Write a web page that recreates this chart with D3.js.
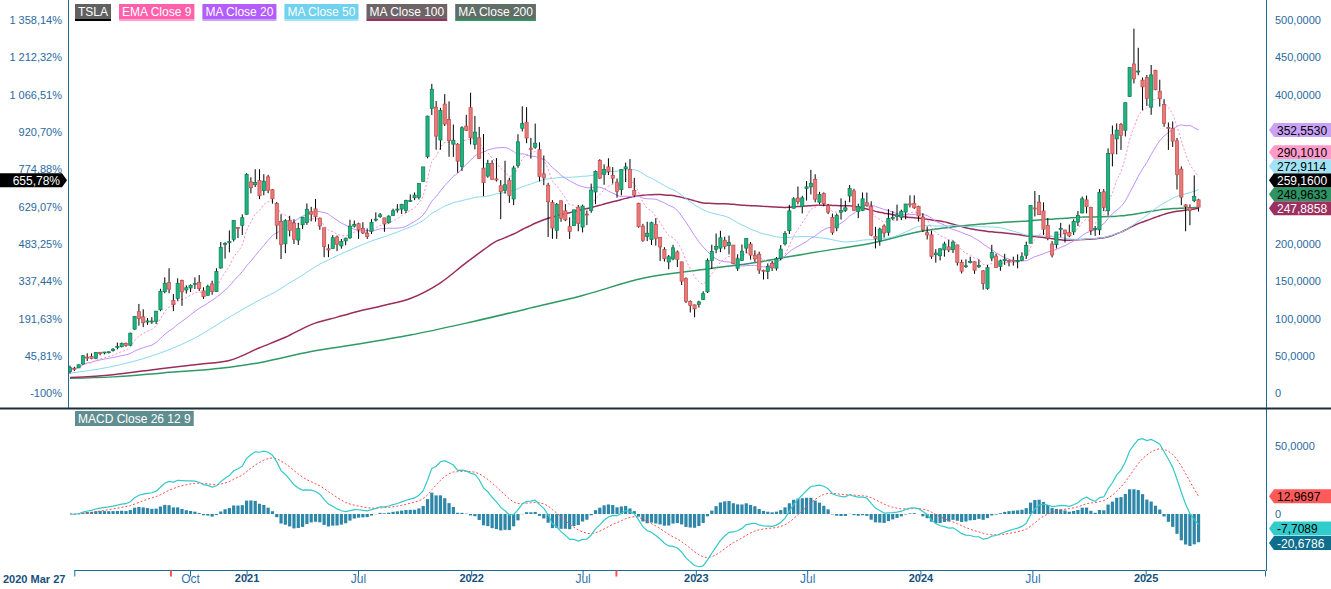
<!DOCTYPE html>
<html>
<head>
<meta charset="utf-8">
<script src="https://cdn.jsdelivr.net/npm/d3@7"></script>
<style>
  body { margin: 0; background: #fff; overflow: hidden; }
  svg { display: block; font-family: "Liberation Sans", Arial, sans-serif; }
</style>
</head>
<body>
<div class="grafico"></div>
<script>
/* TSLA weekly candles, 2020 Mar 27 -> 2025 Mar 31 (split adjusted) */
const firstWeek = '2020-03-20';
const viewStart = '2020-03-27';
const viewEnd = '2025-07-14';

const weekOpen = [
  28.9, 33.3, 34.0, 39.3, 48.5, 49.2, 46.9, 55.0, 55.3, 55.4,
  57.2, 62.7, 62.4, 66.7, 64.3, 85.9, 109.3, 102.4, 97.0, 96.4,
  96.5, 111.8, 136.1, 148.2, 118.7, 127.0, 151.0, 141.5, 141.1, 147.3,
  148.7, 137.2, 131.3, 146.5, 136.3, 167.8, 200.7, 201.6, 206.3, 222.1,
  224.8, 239.8, 283.1, 279.3, 285.0, 271.4, 289.9, 272.7, 254.2, 230.0,
  200.2, 231.4, 228.1, 205.2, 235.9, 228.6, 239.9, 247.0, 234.6, 221.6,
  191.9, 193.9, 209.3, 197.3, 204.1, 208.2, 223.9, 227.2, 220.7, 210.0,
  217.0, 233.3, 236.7, 235.0, 228.5, 238.2, 246.7, 246.7, 244.9, 257.7,
  265.5, 262.6, 283.9, 316.8, 381.7, 383.3, 339.2, 387.4, 366.7, 333.7,
  333.7, 303.6, 357.9, 382.6, 333.3, 342.2, 301.6, 290.9, 307.9, 287.2,
  278.0, 271.7, 285.4, 260.2, 305.0, 355.0, 363.1, 326.8, 329.7, 326.3,
  294.0, 278.8, 255.7, 218.3, 257.9, 244.4, 223.2, 224.5, 249.4, 222.6,
  239.3, 244.9, 269.7, 311.7, 293.3, 303.3, 291.7, 282.8, 272.7, 300.7,
  300.1, 271.8, 254.5, 223.9, 210.0, 205.8, 226.2, 208.7, 192.8, 175.9,
  179.9, 189.4, 176.1, 154.0, 117.5, 118.47, 118.96, 125.7, 135.87, 178.05,
  193.0, 194.4, 204.99, 202.0, 198.54, 167.46, 178.08, 194.42, 199.91, 179.94,
  186.32, 164.65, 163.17, 173.72, 167.65, 180.7, 200.1, 217.8, 247.94, 261.5,
  250.07, 276.49, 276.47, 286.63, 255.85, 267.48, 251.45, 235.7, 221.55, 242.58,
  245.0, 264.27, 271.16, 243.38, 244.81, 255.31, 250.05, 210.0, 204.0, 223.98,
  215.6, 234.04, 236.89, 235.75, 242.74, 253.78, 254.49, 250.08, 236.14, 215.1,
  212.26, 185.63, 184.26, 192.11, 196.13, 192.29, 198.73, 175.45, 170.02, 176.45,
  176.17, 169.34, 164.0, 140.56, 188.42, 183.8, 170.0, 177.56, 176.4, 178.13,
  176.06, 177.9, 184.97, 201.02, 247.71, 255.97, 244.21, 224.9, 185.22, 199.02,
  220.82, 218.75, 215.26, 216.2, 229.3, 241.64, 259.04, 249.0, 220.13, 218.9,
  270.0, 244.56, 346.3, 340.73, 360.14, 352.38, 397.61, 441.09, 431.0, 419.4,
  423.2, 383.21, 432.64, 394.8, 386.68, 356.21, 355.0, 338.14, 300.34, 252.35,
  245.06, 258.08, 249.31
];

const weekHigh = [
  37.1, 35.5, 38.7, 51.3, 53.6, 53.5, 54.9, 55.2, 55.5, 56.1,
  60.5, 67.9, 67.9, 68.0, 81.2, 103.3, 119.7, 112.6, 100.9, 101.9,
  110.1, 140.0, 155.3, 167.5, 133.0, 154.0, 152.2, 144.6, 145.9, 155.3,
  158.4, 141.9, 145.5, 150.8, 167.5, 202.6, 202.4, 218.1, 231.8, 222.8,
  239.6, 294.8, 289.3, 300.1, 300.1, 293.5, 292.6, 273.7, 256.2, 239.7,
  233.2, 237.7, 233.2, 228.3, 236.0, 254.3, 249.8, 260.3, 235.3, 221.7,
  199.7, 211.9, 211.3, 206.7, 208.5, 232.5, 231.5, 228.5, 229.1, 220.7,
  233.3, 242.3, 241.4, 235.0, 238.4, 247.3, 253.4, 253.7, 259.3, 266.3,
  269.0, 281.1, 303.3, 371.7, 414.5, 391.5, 382.3, 400.7, 391.0, 360.0,
  335.0, 357.7, 373.0, 402.7, 371.6, 356.9, 347.2, 312.7, 312.2, 315.0,
  285.6, 311.5, 288.7, 304.7, 346.9, 384.3, 383.3, 342.1, 361.3, 336.2,
  318.5, 281.9, 258.7, 254.9, 258.0, 253.4, 235.7, 246.1, 252.1, 252.7,
  244.7, 280.8, 298.3, 313.6, 306.7, 314.8, 302.96, 287.7, 299.85, 309.0,
  313.8, 288.5, 255.2, 227.0, 229.8, 229.85, 234.6, 208.9, 195.7, 185.2,
  198.9, 191.3, 176.1, 155.25, 124.48, 118.8, 124.0, 136.68, 180.68, 199.0,
  214.0, 217.65, 209.7, 211.23, 198.6, 186.22, 199.31, 207.79, 202.69, 191.4,
  189.69, 165.65, 174.0, 177.38, 182.5, 198.6, 217.25, 252.4, 262.6, 276.99,
  264.45, 284.25, 299.29, 293.34, 269.85, 269.08, 253.65, 240.66, 240.8, 261.18,
  258.0, 278.98, 273.93, 254.0, 268.99, 268.94, 257.18, 223.0, 222.0, 226.32,
  246.7, 244.01, 252.75, 246.0, 253.89, 265.13, 265.13, 251.25, 241.25, 223.49,
  217.8, 193.0, 194.0, 203.0, 205.6, 204.52, 199.0, 179.0, 179.4, 183.0,
  176.75, 179.4, 165.0, 172.0, 198.87, 187.0, 179.0, 186.8, 179.0, 183.0,
  186.0, 188.8, 203.2, 251.84, 271.0, 265.6, 255.76, 234.68, 203.88, 216.12,
  228.34, 219.0, 226.0, 233.0, 244.24, 263.5, 264.86, 249.83, 224.0, 273.54,
  273.54, 328.0, 358.64, 361.53, 361.93, 389.49, 436.3, 488.54, 462.78, 423.0,
  426.43, 439.74, 433.2, 419.99, 394.0, 362.7, 364.0, 342.0, 303.94, 253.37,
  253.0, 291.85, 260.56
];

const weekLow = [
  26.4, 29.8, 33.8, 38.4, 43.3, 45.6, 45.8, 50.8, 52.1, 53.4,
  55.9, 58.8, 61.5, 62.3, 63.3, 85.0, 90.6, 88.6, 91.6, 93.0,
  93.0, 110.0, 134.0, 134.0, 110.0, 124.0, 117.1, 133.5, 135.7, 139.7,
  137.1, 126.4, 131.0, 132.0, 136.0, 167.0, 180.4, 188.8, 203.3, 207.9,
  212.0, 239.1, 267.9, 276.3, 260.0, 265.2, 268.0, 254.0, 206.3, 179.8,
  187.7, 210.0, 200.0, 198.7, 219.9, 225.7, 230.3, 230.0, 219.0, 182.3,
  182.3, 193.9, 190.4, 193.7, 198.3, 206.8, 222.0, 206.8, 213.3, 206.8,
  213.3, 230.0, 235.0, 216.3, 227.3, 237.7, 242.0, 240.2, 241.4, 256.3,
  258.7, 259.6, 283.7, 314.7, 372.7, 326.2, 326.2, 358.0, 316.8, 316.7,
  295.4, 297.8, 351.5, 333.3, 326.8, 314.2, 264.0, 288.7, 286.5, 283.6,
  233.3, 267.3, 255.0, 252.0, 302.3, 350.7, 335.0, 314.3, 327.5, 283.8,
  278.8, 209.4, 206.9, 206.9, 229.7, 230.7, 206.8, 224.3, 217.0, 215.5,
  225.2, 241.7, 253.3, 287.3, 279.3, 292.3, 280.8, 262.0, 265.0, 283.0,
  274.9, 262.5, 221.9, 203.0, 203.8, 198.6, 197.85, 177.1, 176.5, 166.2,
  178.2, 169.1, 145.0, 121.0, 108.24, 101.81, 114.9, 125.0, 134.27, 166.5,
  187.6, 189.0, 192.8, 186.0, 172.9, 163.91, 177.35, 187.6, 179.04, 176.0,
  160.0, 152.37, 153.0, 163.9, 164.4, 178.0, 197.9, 213.3, 247.3, 253.0,
  241.0, 258.1, 266.3, 255.8, 253.0, 250.5, 240.0, 212.36, 217.0, 232.7,
  243.0, 256.0, 244.0, 234.58, 244.0, 250.0, 210.42, 194.07, 197.65, 208.6,
  211.0, 232.0, 231.0, 231.9, 233.0, 249.0, 247.0, 230.0, 216.0, 206.0,
  180.06, 175.0, 178.0, 183.0, 189.0, 188.0, 171.0, 160.51, 168.0, 174.0,
  160.0, 168.0, 138.8, 138.8, 177.0, 168.0, 164.0, 172.0, 170.0, 171.0,
  167.4, 177.0, 180.1, 201.0, 236.8, 239.0, 212.1, 205.0, 182.0, 194.0,
  209.0, 202.0, 209.0, 212.0, 224.0, 241.0, 241.0, 212.0, 211.0, 212.0,
  244.0, 238.0, 304.0, 320.0, 326.0, 344.0, 397.0, 415.0, 426.0, 379.0,
  385.0, 373.04, 406.0, 384.0, 357.0, 326.0, 330.0, 273.0, 252.0, 217.02,
  225.0, 256.0, 243.36
];

const weekClose = [
  34.29034, 32.00, 38.20, 50.26, 48.34, 46.75, 54.63, 53.28, 54.46, 55.67,
  59.04, 62.35, 66.73, 63.98, 80.58, 102.98, 100.06, 94.47, 95.38, 96.85,
  110.05, 136.67, 147.56, 139.44, 124.24, 147.38, 135.78, 138.36, 144.67, 146.56,
  140.21, 129.35, 143.32, 136.17, 163.20, 195.25, 199.68, 203.33, 231.67, 220.59,
  235.22, 293.34, 275.39, 282.21, 264.51, 284.08, 272.04, 260.43, 225.17, 199.32,
  231.24, 218.29, 206.24, 220.58, 225.67, 246.59, 243.13, 236.48, 224.12, 196.58,
  193.63, 208.41, 199.68, 203.30, 207.77, 223.96, 226.30, 218.98, 214.74, 214.46,
  229.07, 233.03, 239.06, 226.75, 237.31, 244.52, 245.42, 253.16, 258.13, 258.41,
  261.83, 281.01, 303.23, 371.33, 407.36, 344.47, 379.02, 360.64, 338.32, 339.01,
  310.86, 355.67, 352.26, 342.32, 349.87, 314.63, 282.12, 307.77, 286.67, 285.66,
  269.96, 279.43, 265.12, 301.80, 336.88, 361.53, 341.83, 328.33, 335.02, 290.25,
  288.55, 256.53, 221.30, 253.21, 234.52, 232.23, 216.76, 245.71, 227.26, 250.76,
  240.07, 272.24, 297.15, 288.17, 300.03, 296.67, 288.09, 270.21, 299.68, 303.35,
  275.33, 265.25, 223.07, 204.99, 214.44, 228.52, 207.47, 195.97, 180.19, 182.86,
  194.86, 179.05, 150.23, 123.15, 123.10, 113.06, 122.40, 133.42, 177.90, 189.98,
  196.89, 208.31, 196.88, 197.79, 173.44, 180.13, 190.41, 207.46, 185.06, 185.00,
  165.08, 164.31, 170.06, 167.98, 180.14, 193.17, 213.97, 244.40, 260.54, 256.60,
  261.77, 274.43, 281.38, 260.02, 266.44, 253.86, 242.65, 215.49, 238.59, 245.01,
  248.50, 274.39, 244.88, 250.22, 260.53, 251.12, 211.99, 207.30, 219.96, 214.65,
  234.30, 235.45, 238.83, 243.84, 253.50, 252.54, 248.48, 237.49, 218.89, 212.19,
  183.25, 187.91, 193.57, 199.95, 191.97, 202.64, 175.34, 163.57, 170.83, 175.79,
  164.90, 171.05, 147.05, 168.29, 181.19, 168.47, 177.46, 179.24, 178.08, 177.48,
  178.01, 183.01, 197.88, 251.52, 248.23, 239.20, 219.80, 207.67, 200.00, 216.12,
  220.32, 214.11, 210.73, 230.29, 238.25, 260.46, 250.08, 217.80, 220.70, 269.19,
  248.98, 321.22, 320.72, 352.56, 345.16, 389.22, 436.23, 421.06, 431.66, 410.44,
  394.74, 426.50, 406.58, 404.60, 361.62, 355.84, 337.80, 292.98, 262.67, 249.98,
  248.71, 263.55, 259.16
];

/* long averages before their window is full: [week index, value] */
const ma50Early = [[0, 27], [9, 35], [21, 54], [29, 74], [37, 102], [44, 125]];
const ma100Early = [[0, 21], [10, 25], [21, 33], [30, 39], [37, 44], [44, 61], [50, 75], [56, 92],
  [62, 102], [67, 110], [73, 118], [79, 127], [86, 148], [92, 175], [96, 192]];
const ma200Early = [[0, 20], [10, 22], [21, 27], [37, 35], [44, 41], [56, 56], [67, 66], [79, 78],
  [92, 94], [106, 113], [119, 131], [133, 154], [146, 165], [160, 176], [173, 189], [186, 201]];

/* last values shown in the right hand tags */
const seriesNames = ['TSLA', 'EMA Close 9', 'MA Close 20', 'MA Close 50', 'MA Close 100', 'MA Close 200'];
const lastValues = [259.16, 290.101, 352.553, 272.9114, 247.8858, 248.9633];
const macdNames = ['MACD', 'Signal', 'Histogram'];
const macdLast = [-7.7089, 12.9697, -20.6786];

const priceTicks = [0, 50, 100, 150, 200, 250, 300, 350, 400, 450, 500];
const macdTicks = [0, 50];
const xTickDates = ['2020-10-01', '2021-01-01', '2021-07-01', '2022-01-01', '2022-07-01',
  '2023-01-01', '2023-07-01', '2024-01-01', '2024-07-01', '2025-01-01'];
const xTickLabels = ['Oct', '2021', 'Jul', '2022', 'Jul', '2023', 'Jul', '2024', 'Jul', '2025'];
const splitDates = ['2020-08-31', '2022-08-25'];

/* styles */
const style = {
  'TSLA':         { box: '#606060', under: '#000000', line: '#000000', tag: '#000000', tagText: '#ffffff' },
  'EMA Close 9':  { box: '#ff5fab', under: '#ff9fd0', line: '#ff8cc6', tag: '#ff9acb', tagText: '#000000' },
  'MA Close 20':  { box: '#b35cff', under: '#c9a2f5', line: '#c18fff', tag: '#c9a2f5', tagText: '#000000' },
  'MA Close 50':  { box: '#70d2ee', under: '#a0e4f5', line: '#8ad8f0', tag: '#a0e4f5', tagText: '#000000' },
  'MA Close 100': { box: '#6e6468', under: '#9b2e5e', line: '#9b2c5c', tag: '#9b3060', tagText: '#ffffff' },
  'MA Close 200': { box: '#5f6e66', under: '#2e9463', line: '#2f9a66', tag: '#2e9463', tagText: '#000000' }
};
const macdStyle = {
  'MACD':      { line: '#33c9c9', tag: '#33cccc', tagText: '#000000' },
  'Signal':    { line: '#ff4a4a', tag: '#ff5a5a', tagText: '#000000' },
  'Histogram': { line: '#2e86a8', tag: '#0e6e8c', tagText: '#ffffff' }
};
const axisColor = '#1d6a96';

const W = 1331, H = 589;
const parse = d3.utcParse('%Y-%m-%d');
const start = parse(firstWeek);
const n = weekClose.length;

const x = d3.scaleUtc().domain([parse(viewStart), parse(viewEnd)]).range([74.3, 1265]);
const y = d3.scaleLinear().domain([0, 500]).range([393.3, 20]);
const yM = d3.scaleLinear().domain([0, 50]).range([514, 445.7]);
const xi = i => x(d3.utcDay.offset(start, 7 * i));

/* indicators */
const ema = (vals, p) => { const k = 2 / (p + 1); let e = vals[0]; return vals.map(v => (e = v * k + e * (1 - k))); };
const smaFull = (p, early) => {
  const pts = early.map(d => d.slice());
  for (let i = p - 1; i < n; i++) pts.push([i, d3.mean(weekClose.slice(i - p + 1, i + 1))]);
  return pts;
};
const ema9 = ema(weekClose, 9).map((v, i) => [i, v]);
const ma20 = weekClose.map((v, i) => [i, d3.mean(weekClose.slice(Math.max(0, i - 19), i + 1))]);
const ma50 = smaFull(50, ma50Early);
const ma100 = smaFull(100, ma100Early);
const ma200 = smaFull(200, ma200Early);

const e12 = ema(weekClose, 12), e26 = ema(weekClose, 26);
const macd = e12.map((v, i) => v - e26[i]);
const signal = ema(macd, 9).map((v, i) => i === 0 ? 0 : v);
const hist = macd.map((v, i) => v - signal[i]);

const loc = d3.formatLocale({ decimal: ',', thousands: ' ', grouping: [3], currency: ['', ''], minus: '-' });
const f2 = loc.format(',.2f'), f4 = loc.format('.4f');
const base = weekClose[0];
const fPct = v => v === 0 ? '-100%' : f2((v / base - 1) * 100) + '%';
const fNum = v => v === 0 ? '0' : f4(v);

const svg = d3.select('.grafico').append('svg').attr('width', W).attr('height', H);
svg.append('rect').attr('width', W).attr('height', H).attr('fill', '#fff');

const defs = svg.append('defs');
defs.append('clipPath').attr('id', 'clipMain').append('rect').attr('x', 68).attr('y', 0).attr('width', 1198).attr('height', 407);
defs.append('clipPath').attr('id', 'clipMacd').append('rect').attr('x', 68).attr('y', 410).attr('width', 1198).attr('height', 160);

/* ---- price panel ---- */
const gMain = svg.append('g').attr('clip-path', 'url(#clipMain)');

const lineGen = d3.line().x(d => xi(d[0])).y(d => y(d[1])).curve(d3.curveMonotoneX);
const drawLine = (pts, name, w, dash) => gMain.append('path').attr('d', lineGen(pts))
  .attr('fill', 'none').attr('stroke', style[name].line).attr('stroke-width', w)
  .attr('stroke-dasharray', dash || null);

drawLine(ma200, 'MA Close 200', 1.5);
drawLine(ma100, 'MA Close 100', 1.5);
drawLine(ma50, 'MA Close 50', 1);
drawLine(ma20, 'MA Close 20', 1);
drawLine(ema9, 'EMA Close 9', 1, '2,2');

const candles = weekClose.map((c, i) => ({
  i, o: weekOpen[i], h: weekHigh[i], l: weekLow[i], c,
  up: c >= (i ? weekClose[i - 1] : weekOpen[i])
}));
const cg = gMain.selectAll('g.candle').data(candles).join('g').attr('class', 'candle');
cg.append('line')
  .attr('x1', d => xi(d.i)).attr('x2', d => xi(d.i))
  .attr('y1', d => y(d.h)).attr('y2', d => y(d.l))
  .attr('stroke', '#000').attr('stroke-width', 1);
cg.append('rect')
  .attr('x', d => xi(d.i) - 1.6).attr('width', 3.2)
  .attr('y', d => y(Math.max(d.o, d.c)))
  .attr('height', d => Math.max(1, Math.abs(y(d.o) - y(d.c))))
  .attr('fill', d => d.up ? '#1fb47e' : '#e77b7b')
  .attr('stroke', d => d.up ? '#0d7a52' : '#c24a4a').attr('stroke-width', 0.7);

/* ---- MACD panel ---- */
const gM = svg.append('g').attr('clip-path', 'url(#clipMacd)');
gM.selectAll('rect.bar').data(hist).join('rect').attr('class', 'bar')
  .attr('x', (d, i) => xi(i) - 1.6).attr('width', 3.2)
  .attr('y', d => Math.min(yM(d), yM(0)))
  .attr('height', d => Math.abs(yM(d) - yM(0)))
  .attr('fill', macdStyle.Histogram.line);
const mLine = d3.line().x((d, i) => xi(i)).y(d => yM(d));
gM.append('path').attr('d', mLine(signal)).attr('fill', 'none')
  .attr('stroke', macdStyle.Signal.line).attr('stroke-width', 1).attr('stroke-dasharray', '2,2');
gM.append('path').attr('d', mLine(macd)).attr('fill', 'none')
  .attr('stroke', macdStyle.MACD.line).attr('stroke-width', 1.2);

/* ---- frame ---- */
svg.append('line').attr('x1', 68.5).attr('x2', 68.5).attr('y1', 0).attr('y2', 408).attr('stroke', axisColor);
svg.append('line').attr('x1', 1266.5).attr('x2', 1266.5).attr('y1', 0).attr('y2', 571).attr('stroke', axisColor);
svg.append('line').attr('x1', 0).attr('x2', W).attr('y1', 408.5).attr('y2', 408.5).attr('stroke', '#1b2f3b').attr('stroke-width', 2);

/* ---- tags ---- */
function rightTag(yc, fill, color, text) {
  const g = svg.append('g');
  g.append('path').attr('d', `M1269,${yc} L1274,${yc - 7} L${W},${yc - 7} L${W},${yc + 7} L1274,${yc + 7} Z`).attr('fill', fill);
  g.append('text').attr('x', 1277).attr('y', yc + 4.5).attr('font-size', 12).attr('fill', color).text(text);
}

const tags = seriesNames.map((name, k) => ({ name, v: lastValues[k] })).sort((a, b) => a.v - b.v);
let prev = Infinity;
tags.forEach(t => { t.yc = Math.min(y(t.v), prev - 14); prev = t.yc; });

/* right price axis */
priceTicks.forEach(v => {
  if (tags.some(t => Math.abs(t.yc - y(v)) < 11)) return;
  svg.append('text').attr('x', 1275).attr('y', y(v) + 4).attr('font-size', 11).attr('fill', '#2a6aa0').text(fNum(v));
});
/* left percent axis */
priceTicks.forEach(v => {
  svg.append('text').attr('x', 62).attr('y', y(v) + 4).attr('text-anchor', 'end')
    .attr('font-size', 11).attr('fill', '#2a6aa0').text(fPct(v));
});
tags.forEach(t => rightTag(t.yc, style[t.name].tag, style[t.name].tagText, fNum(t.v)));

/* left tag: last close in percent */
const lastClose = lastValues[0];
const lt = tags.find(t => t.name === 'TSLA').yc;
svg.append('path').attr('d', `M0,${lt - 7} L62,${lt - 7} L67,${lt} L62,${lt + 7} L0,${lt + 7} Z`).attr('fill', '#000');
svg.append('text').attr('x', 60).attr('y', lt + 4.5).attr('text-anchor', 'end').attr('font-size', 12)
  .attr('fill', '#fff').text(fPct(lastClose));

/* MACD axis + tags */
macdTicks.forEach(v => {
  svg.append('text').attr('x', 1275).attr('y', yM(v) + 4).attr('font-size', 11).attr('fill', '#2a6aa0').text(fNum(v));
});
const mTags = macdNames.map((name, k) => ({ name, v: macdLast[k] }));
let pNeg = yM(0), pPos = yM(0);
mTags.filter(t => t.v < 0).sort((a, b) => b.v - a.v).forEach(t => { t.yc = Math.max(yM(t.v), pNeg + 14.5); pNeg = t.yc; });
mTags.filter(t => t.v >= 0).sort((a, b) => a.v - b.v).forEach(t => { t.yc = Math.min(yM(t.v), pPos - 14.5); pPos = t.yc; });
mTags.forEach(t => rightTag(t.yc, macdStyle[t.name].tag, macdStyle[t.name].tagText, fNum(t.v)));

/* ---- legends ---- */
let lx = 75;
seriesNames.forEach(name => {
  const g = svg.append('g');
  const t = g.append('text').attr('x', lx + 3).attr('y', 16).attr('font-size', 12).attr('fill', '#fff').text(name);
  const w = t.node().getComputedTextLength() + 6;
  g.insert('rect', 'text').attr('x', lx).attr('y', 4).attr('width', w).attr('height', 15).attr('fill', style[name].box);
  g.append('rect').attr('x', lx).attr('y', 19).attr('width', w).attr('height', 2).attr('fill', style[name].under);
  lx += w + 8;
});
{
  const g = svg.append('g');
  const t = g.append('text').attr('x', 78).attr('y', 423).attr('font-size', 12).attr('fill', '#fff').text('MACD Close 26 12 9');
  const w = t.node().getComputedTextLength() + 6;
  g.insert('rect', 'text').attr('x', 75).attr('y', 411).attr('width', w).attr('height', 15).attr('fill', '#5f8e90');
}

/* ---- time axis ---- */
const axY = 570.5;
const isYear = s => /^\d{4}$/.test(s);
svg.append('line').attr('x1', x(parse(viewStart))).attr('x2', 1265).attr('y1', axY).attr('y2', axY).attr('stroke', axisColor);
const gx = svg.append('g').attr('transform', `translate(0,${axY})`)
  .call(d3.axisBottom(x).tickValues([parse(viewStart), ...xTickDates.map(parse), parse(viewEnd)])
    .tickSize(6).tickSizeOuter(0)
    .tickFormat((d, i) => i === 0 || i > xTickLabels.length ? '' : xTickLabels[i - 1]));
gx.select('.domain').remove();
gx.selectAll('.tick line').attr('stroke', axisColor);
gx.selectAll('.tick text').attr('font-family', '"Liberation Sans", Arial, sans-serif')
  .attr('dy', '0.25em')
  .attr('font-size', function () { return isYear(this.textContent) ? 11 : 12; })
  .attr('fill', function () { return isYear(this.textContent) ? '#16507c' : '#2f74ad'; })
  .attr('font-weight', function () { return isYear(this.textContent) ? 'bold' : 'normal'; });
svg.append('text').attr('x', 3).attr('y', 582.5).attr('font-size', 11).attr('font-weight', 'bold')
  .attr('fill', '#16507c').text(d3.utcFormat('%Y %b %d')(parse(viewStart)));
splitDates.forEach(s => {
  svg.append('line').attr('x1', x(parse(s))).attr('x2', x(parse(s))).attr('y1', axY).attr('y2', axY + 6)
    .attr('stroke', '#ff5050').attr('stroke-width', 2);
});
</script>
</body>
</html>
